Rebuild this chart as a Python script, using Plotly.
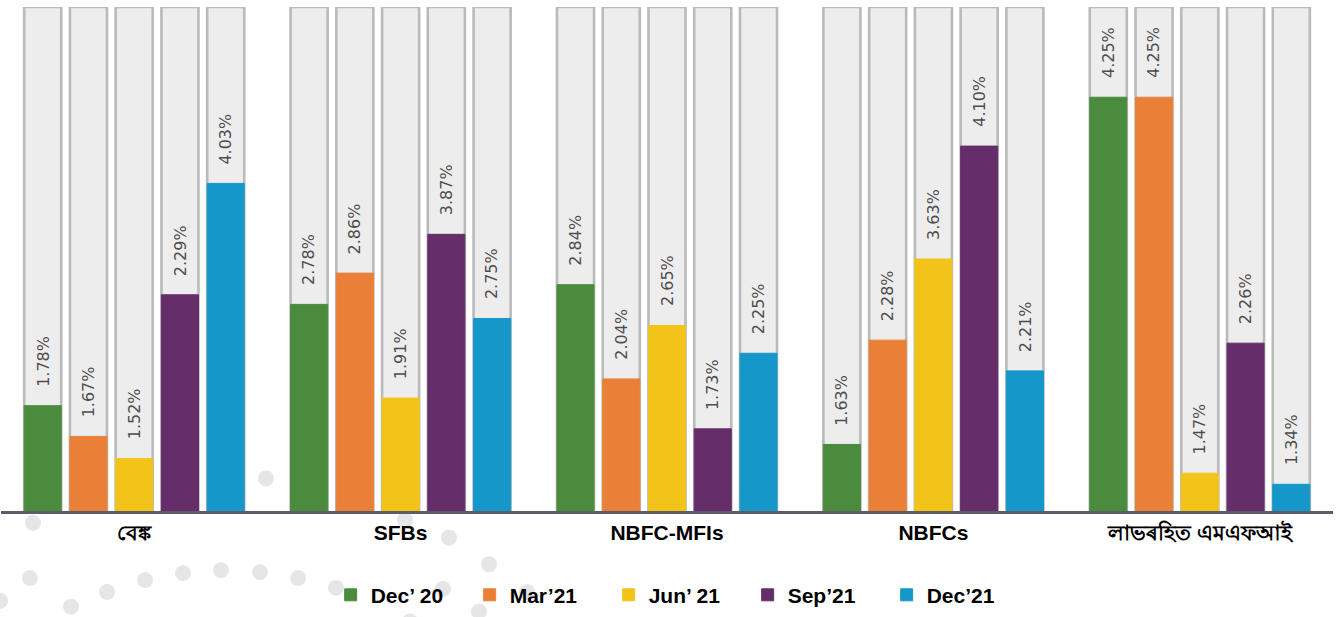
import plotly.graph_objects as go

categories = ["বেঙ্ক", "SFBs", "NBFC-MFIs", "NBFCs", "লাভৰহিত এমএফআই"]
series_names = ["Dec\u2019 20", "Mar\u201921", "Jun\u2019 21", "Sep\u201921", "Dec\u201921"]

# percentage labels shown on the chart
rate_dec20 = [1.78, 2.78, 2.84, 1.63, 4.25]
rate_mar21 = [1.67, 2.86, 2.04, 2.28, 4.25]
rate_jun21 = [1.52, 1.91, 2.65, 3.63, 1.47]
rate_sep21 = [2.29, 3.87, 1.73, 4.10, 2.26]
rate_dec21 = [4.03, 2.75, 2.25, 2.21, 1.34]

# drawn bar heights (share of the full grey column, 0-100)
height_dec20 = [20.9, 41.0, 44.9, 13.2, 82.1]
height_mar21 = [14.8, 47.2, 26.2, 33.9, 82.1]
height_jun21 = [10.4, 22.4, 36.8, 50.0, 7.5]
height_sep21 = [42.9, 54.9, 16.3, 72.4, 33.3]
height_dec21 = [65.0, 38.2, 31.3, 27.8, 5.3]
column_full = [100, 100, 100, 100, 100]

rates = [rate_dec20, rate_mar21, rate_jun21, rate_sep21, rate_dec21]
heights = [height_dec20, height_mar21, height_jun21, height_sep21, height_dec21]
colors = ["#4b8b3e", "#ea8038", "#f2c41a", "#652d6a", "#1597ca"]

W, H = 1342, 617
ML, MR, MT, MB = 1, 9, 7, 99
plot_w = W - ML - MR
plot_h = H - MT - MB
base_px = 515  # where the baseline should land in the page
bargap = 0.1413
n = len(series_names)
slot_px = plot_w / len(categories) * (1 - bargap) / n

fig = go.Figure()

# decorative background dots (pixel positions of the page decoration)
dots = [(266, 482), (33, 527), (30, 583), (71, 612), (107, 597), (145, 585), (183, 578),
        (221, 575), (260, 577), (298, 583), (336, 593), (405, 524), (449, 542), (489, 569),
        (443, 594), (527, 597), (0, 606), (479, 617), (410, 627)]
shapes = []
for (px, py) in dots:
    shapes.append(dict(type="circle", xref="paper", yref="paper",
                       xsizemode="pixel", ysizemode="pixel",
                       xanchor=(px - ML) / plot_w, yanchor=(base_px - py) / plot_h,
                       x0=-8, x1=8, y0=-8, y1=8,
                       fillcolor="#e5e6e7", line=dict(width=0), layer="below"))

for j in range(n):
    fig.add_trace(go.Bar(
        x=categories, y=column_full, offsetgroup=str(j), showlegend=False,
        marker=dict(color="#ededed", line=dict(color="#b9babc", width=2.6)),
        hoverinfo="skip"))

for j in range(n):
    fig.add_trace(go.Bar(
        x=categories, y=heights[j], offsetgroup=str(j), name=series_names[j],
        marker=dict(color=colors[j], line=dict(color=colors[j], width=1))))

annotations = []
for j in range(n):
    for i, c in enumerate(categories):
        annotations.append(dict(
            x=c, y=heights[j][i], xref="x", yref="y",
            text=f"{rates[j][i]:.2f}%", showarrow=False, textangle=-90,
            xanchor="center", yanchor="bottom",
            xshift=(j - (n - 1) / 2) * slot_px, yshift=17,
            font=dict(family="DejaVu Sans", size=16, color="#4d4d4d")))

fig.update_layout(
    width=W, height=H,
    margin=dict(l=ML, r=MR, t=MT, b=MB),
    paper_bgcolor="white", plot_bgcolor="rgba(0,0,0,0)",
    barmode="group", bargap=bargap, bargroupgap=0.19,
    shapes=shapes, annotations=annotations,
    showlegend=True,
    legend=dict(orientation="h", x=0.2475, xanchor="left", y=-0.167, yanchor="middle",
                entrywidth=94, entrywidthmode="pixels", traceorder="normal",
                font=dict(family="Liberation Sans, Arial", size=21, color="#000000", weight="bold"),
                bgcolor="rgba(0,0,0,0)"),
    xaxis=dict(showline=True, linecolor="#5a5d69", linewidth=2.5, showgrid=False,
               ticks="", ticklabelstandoff=1,
               tickfont=dict(family="Liberation Sans, Arial, Noto Sans", size=21, color="#000000", weight="bold")),
    yaxis=dict(range=[0, 100], visible=False, showgrid=False, zeroline=False),
)

fig.write_html("out.html", config={"displayModeBar": False},
               post_script="document.body.style.margin='0px';")
